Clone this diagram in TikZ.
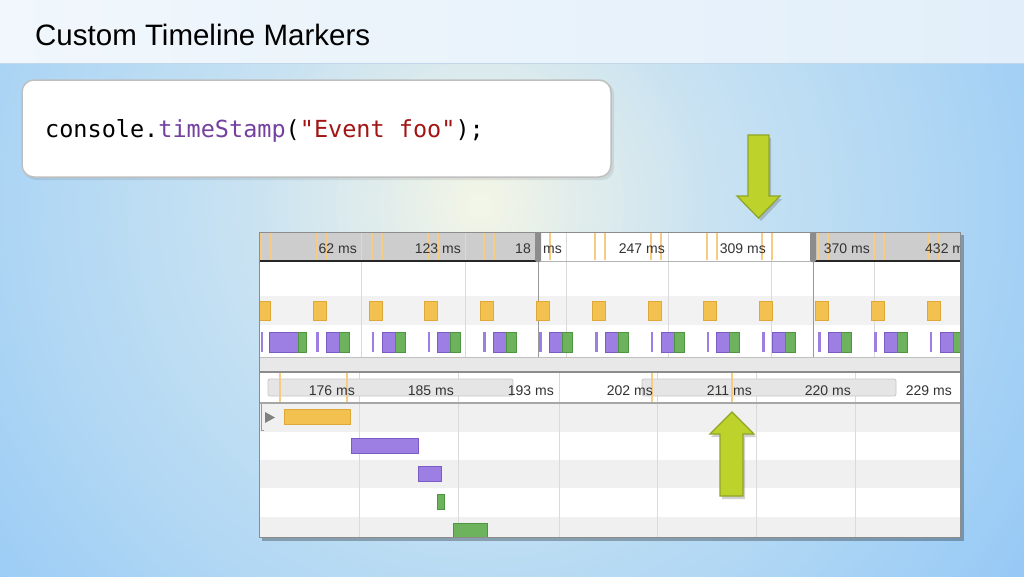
\documentclass[tikz,border=0pt]{standalone}
\usepackage{fontspec}
\setmainfont{Liberation Sans}
\setmonofont{DejaVu Sans Mono}
\definecolor{bgc0}{HTML}{F4F6E6}
\definecolor{bgc1}{HTML}{E6EFEA}
\definecolor{bgc2}{HTML}{C8E2F2}
\definecolor{bgc3}{HTML}{B0D7F4}
\definecolor{bgc4}{HTML}{92C6F6}
\definecolor{hdrleft}{HTML}{F1F7FC}
\definecolor{hdrright}{HTML}{E2EFFA}
\definecolor{hdrline}{HTML}{C2D7EA}
\definecolor{codepurple}{HTML}{74419F}
\definecolor{codered}{HTML}{A31515}
\definecolor{rulergray}{HTML}{CDCDCD}
\definecolor{bandgray}{HTML}{F2F2F2}
\definecolor{rowgray}{HTML}{F0F0F0}
\definecolor{gridgray}{HTML}{DADADA}
\definecolor{markorange}{HTML}{F7CB82}
\definecolor{ybox}{HTML}{F3C14F}
\definecolor{yboxd}{HTML}{DFA93A}
\definecolor{pbox}{HTML}{9D7EE3}
\definecolor{pboxd}{HTML}{7B5CC4}
\definecolor{gbox}{HTML}{6DB25C}
\definecolor{gboxd}{HTML}{4F9440}
\definecolor{handlegray}{HTML}{8C8C8C}
\definecolor{arrowfill}{HTML}{BED22C}
\definecolor{arrowline}{HTML}{8FA424}
\definecolor{lblgray}{HTML}{333333}
\begin{document}
\begin{tikzpicture}[x=1pt,y=-1pt,
  lbl/.style={font=\fontsize{14}{16}\selectfont, text=lblgray, inner sep=0pt, anchor=base east},
  gridline/.style={draw=gridgray, line width=1pt},
  marker/.style={draw=markorange, line width=2pt},
  ybar/.style={fill=ybox, draw=yboxd, line width=0.6pt},
  pbar/.style={fill=pbox, draw=pboxd, line width=0.6pt},
  gbar/.style={fill=gbox, draw=gboxd, line width=0.6pt},
  overbar/.style={fill=black!10, draw=black!22, line width=0.8pt, rounded corners=2pt},
  greenarrow/.style={fill=arrowfill, draw=arrowline, line width=1.2pt, line join=miter},
  arrowshadow/.style={fill=black, opacity=0.18}
]
\useasboundingbox (0,0) rectangle (1024,576);
% background glow built from concentric discs
\begin{scope}
  \clip (0,0) rectangle (1024,576);
  \fill[bgc4] (0,0) rectangle (1024,576);
  \foreach \r in {700,692,...,458} {
    \pgfmathsetmacro{\p}{min(100,(\r-450)/250*100)}
    \fill[bgc4!\p!bgc3] (480,205) circle (\r pt);
  }
  \foreach \r in {450,442,...,242} {
    \pgfmathsetmacro{\p}{(\r-240)/210*100}
    \fill[bgc3!\p!bgc2] (480,205) circle (\r pt);
  }
  \foreach \r in {240,234,...,78} {
    \pgfmathsetmacro{\p}{(\r-75)/165*100}
    \fill[bgc2!\p!bgc1] (480,205) circle (\r pt);
  }
  \foreach \r in {75,70,...,5} {
    \pgfmathsetmacro{\p}{\r/75*100}
    \fill[bgc1!\p!bgc0] (480,205) circle (\r pt);
  }
\end{scope}
% header
\shade[left color=hdrleft, right color=hdrright] (0,0) rectangle (1024,63);
\draw[hdrline, line width=1.2pt] (0,63.5) -- (1024,63.5);
\node (title) [anchor=base west, inner sep=0pt, font=\fontsize{29.5}{34}\selectfont] at (35,45) {Custom Timeline Markers};
% code box
\fill[black, opacity=0.08, rounded corners=12pt] (24,82) rectangle (614,180);
\draw[fill=white, draw=black!25, line width=1.5pt, rounded corners=12pt] (22,80) rectangle (611,177);
\node (code) [anchor=base west, inner sep=0pt, font=\ttfamily\fontsize{23.5}{28}\selectfont] at (45,137)
  {console.\textcolor{codepurple}{timeStamp}(\textcolor{codered}{"Event foo"});};
% screenshot panel
\fill[black, opacity=0.28] (262,235) rectangle (964,541);
\begin{scope}
  \clip (259,232) rectangle (960,537);
  \fill[white] (259,232) rectangle (960,537);
  % top ruler
  \fill[rulergray] (259,232) rectangle (537,261);
  \fill[rulergray] (813,232) rectangle (960,261);
  % bands
  \fill[bandgray] (259,296) rectangle (960,325);
  \fill[black!9] (259,357) rectangle (960,372);
  \fill[rowgray] (259,403) rectangle (960,432);
  \fill[rowgray] (259,460) rectangle (960,488);
  \fill[rowgray] (259,517) rectangle (960,537);
  % grid lines
  \foreach \gx in {361,465,566,668,771,874} { \draw[gridline] (\gx,232) -- (\gx,357); }
  \foreach \gx in {359,458,559,657,756,855} { \draw[gridline] (\gx,372) -- (\gx,537); }
  \draw[black!40, line width=1pt] (538,232) -- (538,357);
  \draw[black!40, line width=1pt] (813,232) -- (813,357);
  % ruler bottom lines
  \draw[black!85, line width=1.2pt] (259,261) -- (537,261);
  \draw[black!85, line width=1.2pt] (813,261) -- (960,261);
  \draw[black!30, line width=1pt] (537,261) -- (813,261);
  % orange markers top ruler
  \foreach \i in {0,...,12} {
    \pgfmathsetmacro{\mx}{261+55.7*\i}
    \draw[marker] (\mx,232) -- (\mx,260);
    \draw[marker] (\mx+10,232) -- (\mx+10,260);
  }
  % top labels
  \node (t62)  [lbl] at (357,253) {62 ms};
  \node (t123) [lbl] at (461,253) {123 ms};
  \node (t18)  [lbl] at (531,253) {18};
  \node (tms)  [lbl, anchor=base west] at (543,253) {ms};
  \node (t247) [lbl] at (665,253) {247 ms};
  \node (t309) [lbl] at (766,253) {309 ms};
  \node (t370) [lbl] at (870,253) {370 ms};
  \node (t432) [lbl, anchor=base west] at (925,253) {432 ms};
  % handles
  \fill[handlegray, rounded corners=1.5pt] (535,232) rectangle (541,262);
  \fill[handlegray, rounded corners=1.5pt] (810,232) rectangle (816,262);
  % yellow boxes
  \foreach \i in {0,...,12} {
    \pgfmathsetmacro{\bx}{313+55.8*(\i-1)}
    \draw[ybar] (\bx,301) rectangle ++(13,19);
  }
  % purple / green bars
  \fill[pbox] (260.5,332) rectangle (263,352);
  \draw[pbar] (269,332) rectangle (298,352);
  \draw[gbar] (298,332) rectangle (306,352);
  \foreach \i in {1,...,12} {
    \pgfmathsetmacro{\tx}{316+55.8*(\i-1)}
    \fill[pbox] (\tx,332) rectangle ++(2.5,20);
    \draw[pbar] (\tx+10,332) rectangle (\tx+23,352);
    \draw[gbar] (\tx+23,332) rectangle (\tx+33,352);
  }
  % separator lines
  \draw[black!25, line width=1pt] (259,357) -- (960,357);
  \draw[black!45, line width=1.2pt] (259,372) -- (960,372);
  % bottom ruler
  \draw[overbar] (268,379) rectangle (513,396);
  \draw[overbar] (642,379) rectangle (896,396);
  \foreach \mx in {280,347,652,732} { \draw[marker] (\mx,373) -- (\mx,403); }
  \node (b176) [lbl] at (355,395) {176 ms};
  \node (b185) [lbl] at (454,395) {185 ms};
  \node (b193) [lbl] at (554,395) {193 ms};
  \node (b202) [lbl] at (653,395) {202 ms};
  \node (b211) [lbl] at (752,395) {211 ms};
  \node (b220) [lbl] at (851,395) {220 ms};
  \node (b229) [lbl] at (952,395) {229 ms};
  \draw[black!35, line width=1.2pt] (259,403) -- (960,403);
  % tree bracket and expander
  \draw[black!40, line width=1pt] (261,404) -- (261,430) -- (264,430);
  \fill[black!50] (265,412) -- (275,417.5) -- (265,423) -- cycle;
  % flame bars
  \draw[ybar] (284,409) rectangle (350,424);
  \draw[pbar] (351,438) rectangle (418,453);
  \draw[pbar] (418,466) rectangle (441,481);
  \draw[gbar] (437,494) rectangle (444,509);
  \draw[gbar] (453,523) rectangle (487,545);
\end{scope}
\draw[black!45, line width=0.8pt] (259,232) rectangle (960,537);
% down arrow
\fill[arrowshadow] (750,138) -- (771,138) -- (771,199) -- (782,199) -- (761,221) -- (739,199) -- (750,199) -- cycle;
\draw[greenarrow] (748,135) -- (769,135) -- (769,196) -- (780,196) -- (758.5,218) -- (737,196) -- (748,196) -- cycle;
% up arrow
\fill[arrowshadow] (734,415) -- (756,437) -- (745,437) -- (745,499) -- (722,499) -- (722,437) -- (711,437) -- cycle;
\draw[greenarrow] (732,412) -- (754,434) -- (743,434) -- (743,496) -- (720,496) -- (720,434) -- (710,434) -- cycle;
\end{tikzpicture}
\end{document}
